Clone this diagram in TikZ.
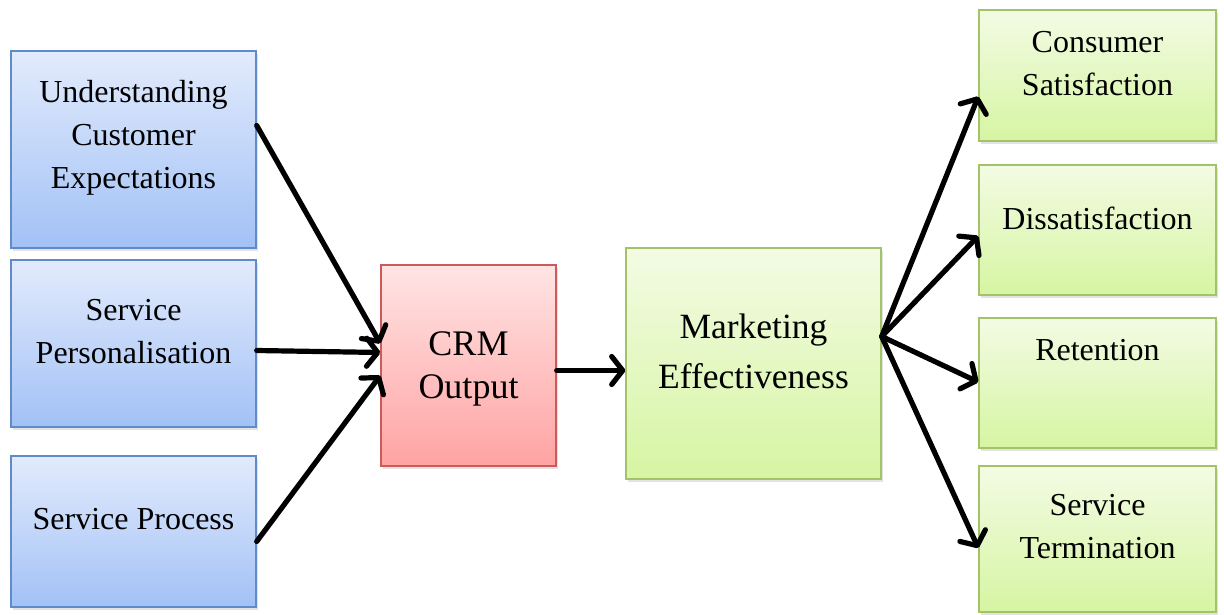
\documentclass[tikz,border=0pt]{standalone}
\usepackage{fontspec}
\setmainfont{Liberation Serif}
\usetikzlibrary{arrows.meta, shadows, positioning}
\definecolor{blueedge}{HTML}{5F8BC9}
\definecolor{bluetop}{HTML}{E2EBFC}
\definecolor{bluebot}{HTML}{A2C1F6}
\definecolor{rededge}{HTML}{CC5A58}
\definecolor{redtop}{HTML}{FFE4E4}
\definecolor{redbot}{HTML}{FFA3A3}
\definecolor{greenedge}{HTML}{A2C367}
\definecolor{greentop}{HTML}{F3FBE4}
\definecolor{greenbot}{HTML}{D6F5A2}
\tikzset{
  box/.style={draw, line width=1.4pt, inner sep=0pt,
    drop shadow={shadow xshift=2pt, shadow yshift=-3pt, opacity=0.22}},
  bluebox/.style={box, draw=blueedge, top color=bluetop, bottom color=bluebot},
  redbox/.style={box, draw=rededge, top color=redtop, bottom color=redbot},
  greenbox/.style={box, draw=greenedge, top color=greentop, bottom color=greenbot},
  txt/.style={align=center, inner sep=0pt, font=\fontsize{32}{43}\selectfont},
  bigtxt/.style={align=center, inner sep=0pt, font=\fontsize{35.5}{46}\selectfont},
  flow/.style={line width=5.2pt, line cap=round,
    -{Straight Barb[length=11pt, width=28pt, line cap=round, line join=round]}},
}
\begin{document}
\begin{tikzpicture}[x=1pt, y=1pt]
	\useasboundingbox (0,0) rectangle (1224,614);
	% left column
	\node[bluebox, minimum width=245pt, minimum height=197pt] (uce) at (133.5,464.5) {};
	\node[bluebox, minimum width=245pt, minimum height=167pt] (spers) at (133.5,270.5) {};
	\node[bluebox, minimum width=245pt, minimum height=151pt] (sproc) at (133.5,82.5) {};
	\node[txt] (uce-t) at ([yshift=12pt]uce.center) {Understanding\\Customer\\Expectations};
	\node[txt] (spers-t) at ([yshift=12pt]spers.center) {Service\\Personalisation};
	\node[txt] (sproc-t) at ([yshift=12pt]sproc.center) {Service Process};
	% middle
	\node[redbox, minimum width=175pt, minimum height=201pt] (crm) at (468.5,248.5) {};
	\node[bigtxt, font=\fontsize{36}{43}\selectfont] (crm-t) at ([yshift=-3pt]crm.center) {CRM\\Output};
	\node[greenbox, minimum width=255pt, minimum height=231pt] (meff) at (753.5,250.5) {};
	\node[bigtxt, font=\fontsize{35.5}{50}\selectfont] (meff-t) at ([yshift=12pt]meff.center) {Marketing\\Effectiveness};
	% right column
	\node[greenbox, minimum width=237pt, minimum height=131pt] (csat) at (1097.5,538.5) {};
	\node[greenbox, minimum width=237pt, minimum height=130pt] (dsat) at (1097.5,384) {};
	\node[greenbox, minimum width=237pt, minimum height=130pt] (ret) at (1097.5,231) {};
	\node[greenbox, minimum width=237pt, minimum height=146pt] (sterm) at (1097.5,75) {};
	\node[txt] (csat-t) at ([yshift=12pt]csat.center) {Consumer\\Satisfaction};
	\node[txt] (dsat-t) at ([yshift=12pt]dsat.center) {Dissatisfaction};
	\node[txt] (ret-t) at ([yshift=33pt]ret.center) {Retention};
	\node[txt] (sterm-t) at ([yshift=12pt]sterm.center) {Service\\Termination};
	% arrows
	\draw[flow] ([yshift=24pt]uce.east) -- ([yshift=22pt]crm.west);
	\draw[flow] ([yshift=-7pt]spers.east) -- ([yshift=13pt]crm.west);
	\draw[flow] ([yshift=-10pt]sproc.east) -- ([yshift=-10pt]crm.west);
	\draw[flow] ([yshift=-5pt]crm.east) -- ([yshift=-7pt]meff.west);
	\draw[flow] ([yshift=27pt]meff.east) -- ([yshift=-21pt]csat.west);
	\draw[flow] ([yshift=27pt]meff.east) -- ([yshift=-6pt]dsat.west);
	\draw[flow] ([yshift=27pt]meff.east) -- ([yshift=1pt]ret.west);
	\draw[flow] ([yshift=27pt]meff.east) -- ([yshift=-9pt]sterm.west);
\end{tikzpicture}
\end{document}
